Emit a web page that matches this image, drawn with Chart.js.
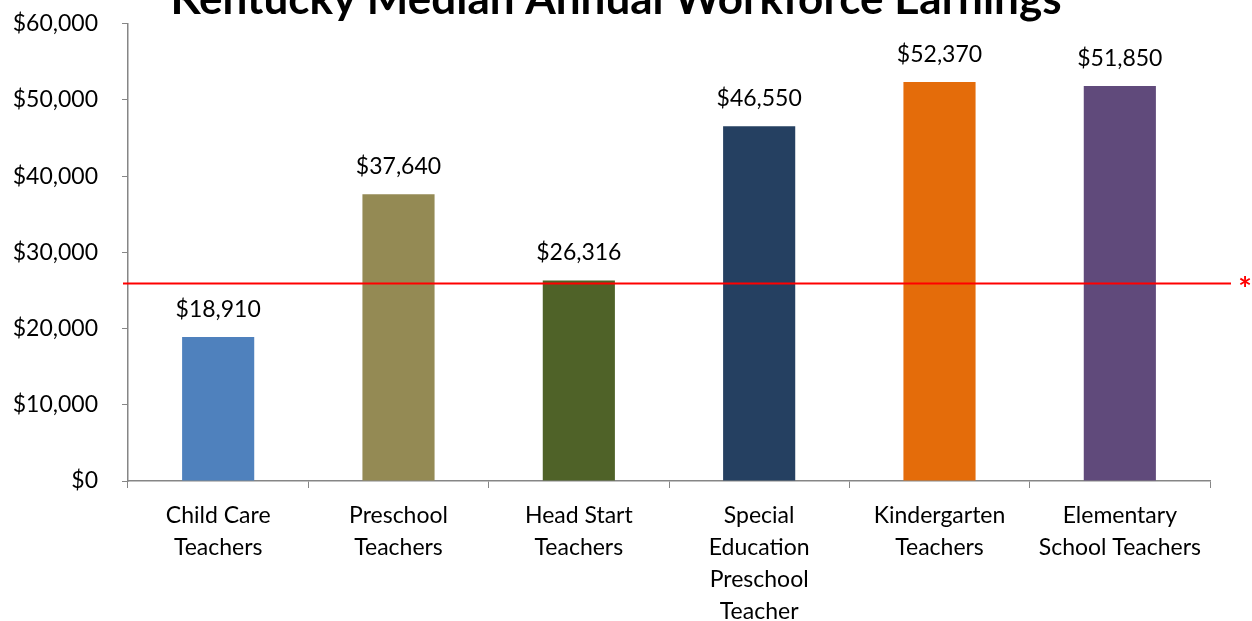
<!DOCTYPE html>
<html>
<head>
<meta charset="utf-8">
<script src="https://cdn.jsdelivr.net/npm/chart.js@4"></script>
<style>
  html, body { margin: 0; padding: 0; background: #fff; overflow: hidden; }
  #frame { width: 1252px; height: 621px; position: relative; overflow: hidden; }
  #wrap { width: 1252px; height: 635px; position: absolute; left: 0; top: -14px; }
</style>
</head>
<body>
<div id="frame"><div id="wrap"><canvas id="bar-chart"></canvas></div></div>
<script>
const categories = [
    [ 'Child Care', 'Teachers' ],
    [ 'Preschool', 'Teachers' ],
    [ 'Head Start', 'Teachers' ],
    [ 'Special', 'Education', 'Preschool', 'Teacher' ],
    [ 'Kindergarten', 'Teachers' ],
    [ 'Elementary', 'School Teachers' ]
];
const earnings = [ 18910, 37640, 26316, 46550, 52370, 51850 ];
const barColors = [ '#4F81BD', '#948A54', '#4F6228', '#254061', '#E46C0A', '#604A7B' ];
const benchmark = 26000;
const yMax = 60000;
const yStep = 10000;

const FONT = 'Lato, "Open Sans", sans-serif';
const money = v => '$' + v.toLocaleString( 'en-US' );
const SHIFT = 14; // canvas is moved up so the title runs off the top

// title, value labels and the red reference line
const extras = {
    id: 'extras',
    afterDatasetsDraw( chart ) {
        const ctx = chart.ctx;
        const y = chart.scales.y;
        const meta = chart.getDatasetMeta( 0 );
        ctx.save();
        ctx.fillStyle = '#000';
        ctx.font = '23px ' + FONT;
        ctx.textAlign = 'center';
        ctx.textBaseline = 'alphabetic';
        meta.data.forEach( ( bar, i ) => {
            ctx.fillText( money( earnings[ i ] ), bar.x, bar.y - 20 );
        });
        //
        const ly = Math.round( y.getPixelForValue( benchmark ) ) + 0.5;
        ctx.strokeStyle = '#FF0000';
        ctx.lineWidth = 2;
        ctx.beginPath();
        ctx.moveTo( chart.chartArea.left - 5, ly );
        ctx.lineTo( 1231, ly );
        ctx.stroke();
        ctx.fillStyle = '#FF0000';
        ctx.font = 'bold 32px ' + FONT;
        ctx.fillText( '*', 1245, ly + 17 );
        //
        ctx.fillStyle = '#000';
        ctx.font = 'bold 44px ' + FONT;
        ctx.fillText( 'Kentucky Median Annual Workforce Earnings', 616, 14 + SHIFT );
        ctx.restore();
    }
};

window.addEventListener( 'load', function () {
    const el = document.querySelector( '#bar-chart' );
    new Chart( el, {
        type: 'bar',
        data: {
            labels: categories,
            datasets: [ {
                data: earnings,
                backgroundColor: barColors,
                barPercentage: 0.8,
                categoryPercentage: 0.5
            } ]
        },
        options: {
            responsive: true,
            maintainAspectRatio: false,
            animation: false,
            layout: { padding: { top: 9, right: 42, left: 0, bottom: 0 } },
            plugins: {
                legend: { display: false },
                title: { display: false },
                tooltip: { enabled: false }
            },
            scales: {
                x: {
                    grid: {
                        offset: true,
                        drawOnChartArea: false,
                        drawTicks: true,
                        tickLength: 7,
                        color: '#868686'
                    },
                    border: { color: '#868686', width: 1.5 },
                    ticks: {
                        color: '#000',
                        font: { family: FONT, size: 23, lineHeight: 1.4 },
                        padding: 11,
                        maxRotation: 0,
                        autoSkip: false
                    },
                    afterFit( s ) { s.height = 140; }
                },
                y: {
                    min: 0,
                    max: yMax,
                    grid: {
                        drawOnChartArea: false,
                        drawTicks: true,
                        tickLength: 6,
                        color: '#868686'
                    },
                    border: { color: '#868686', width: 1.5 },
                    ticks: {
                        stepSize: yStep,
                        color: '#000',
                        font: { family: FONT, size: 23 },
                        padding: 24,
                        callback: v => money( v )
                    },
                    afterFit( s ) { s.width = 128; }
                }
            }
        },
        plugins: [ extras ]
    });
}, false );
</script>
</body>
</html>
